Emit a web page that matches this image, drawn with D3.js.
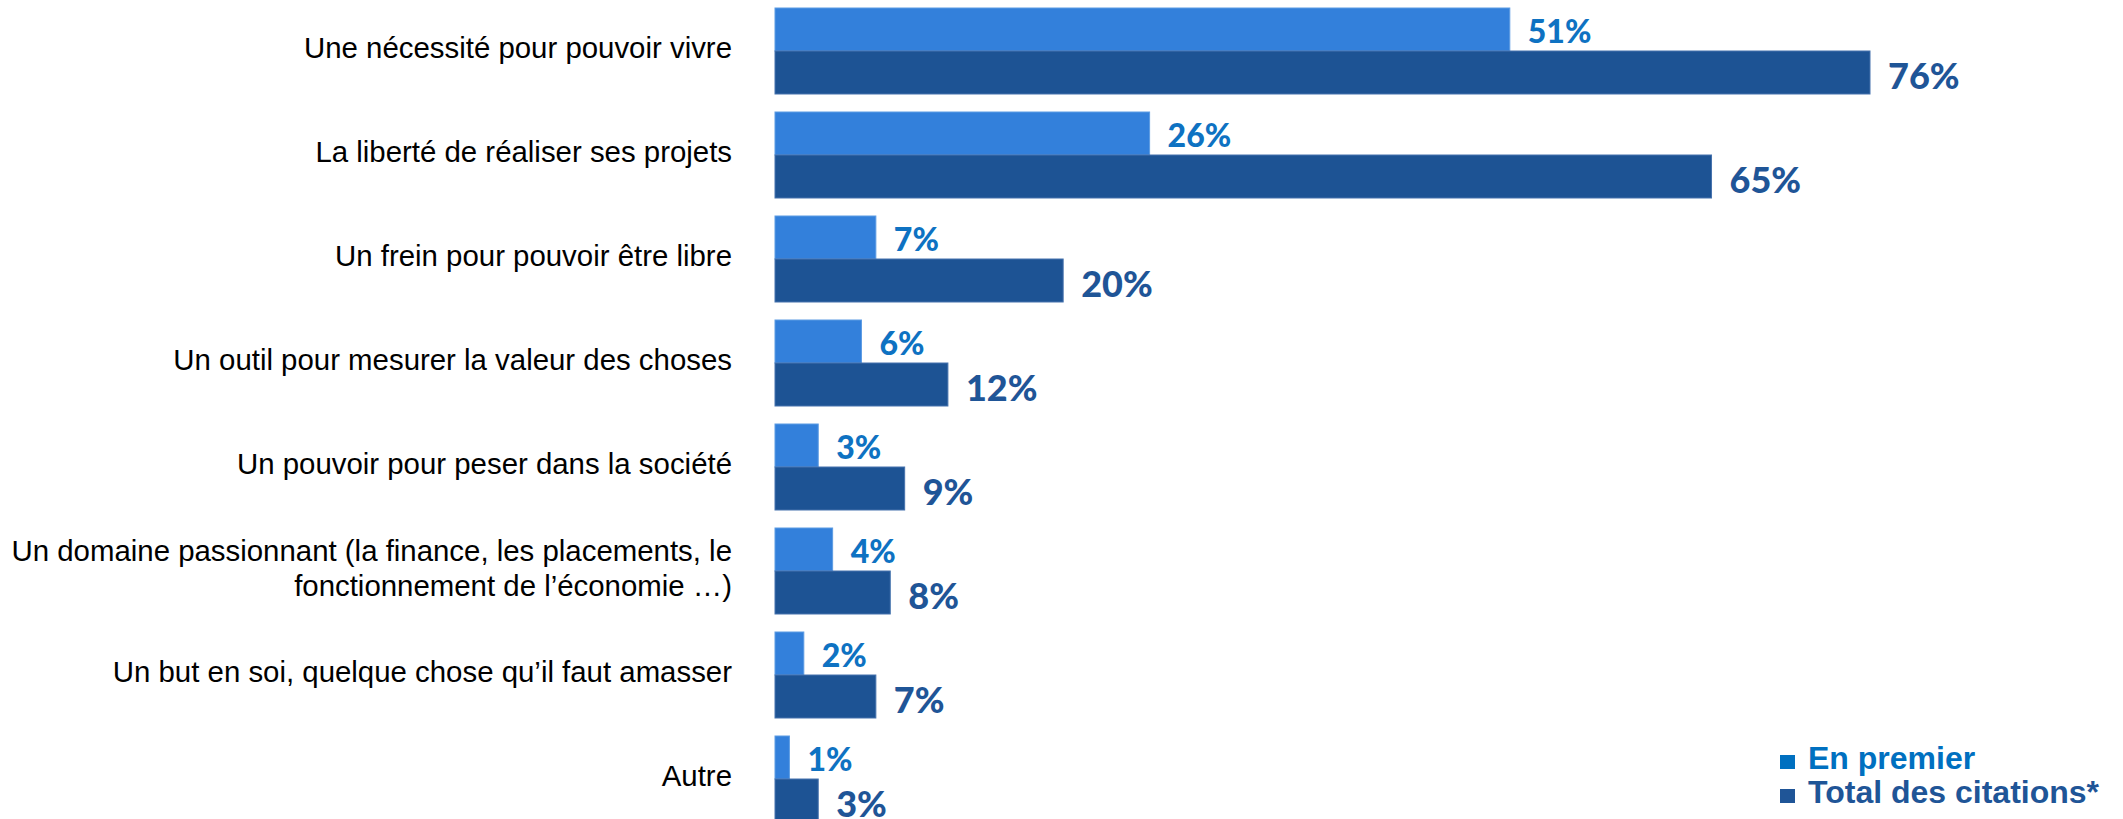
<!DOCTYPE html>
<html>
<head>
<meta charset="utf-8">
<script src="https://cdn.jsdelivr.net/npm/d3@7/dist/d3.min.js"></script>
<style>
  html, body { margin: 0; padding: 0; background: #ffffff; }
  svg { display: block; }
</style>
</head>
<body>
<svg id="chart" width="2123" height="819"></svg>
<script>
// ---- DATA ----
const categories = [
  "Une nécessité pour pouvoir vivre",
  "La liberté de réaliser ses projets",
  "Un frein pour pouvoir être libre",
  "Un outil pour mesurer la valeur des choses",
  "Un pouvoir pour peser dans la société",
  "Un domaine passionnant (la finance, les placements, le|fonctionnement de l’économie …)",
  "Un but en soi, quelque chose qu’il faut amasser",
  "Autre"
];
const enPremier = [51, 26, 7, 6, 3, 4, 2, 1];
const totalCitations = [76, 65, 20, 12, 9, 8, 7, 3];
const seriesNames = ["En premier", "Total des citations*"];

// ---- STYLE ----
const barFill = ["#3380DB", "#1D5394"];
const barStroke = ["#5C9BE3", "#4673AD"];
const labelColor = ["#0E72C2", "#1F5597"];
const legendColor = ["#0070C0", "#1F5597"];

const svg = d3.select("#chart");

const x = d3.scaleLinear().domain([0, 76]).range([775, 1870]);
const y = d3.scaleBand().domain(d3.range(categories.length))
  .range([8, 822]).paddingInner(18 / 104).paddingOuter(0);
const ySub = d3.scaleBand().domain([0, 1]).range([0, y.bandwidth()]).padding(0);

const rows = categories.map((c, i) => ({ cat: c, i, vals: [enPremier[i], totalCitations[i]] }));

const g = svg.selectAll("g.row").data(rows).join("g")
  .attr("class", "row")
  .attr("transform", d => `translate(0,${y(d.i)})`);

// bars
g.selectAll("rect.bar").data(d => d.vals.map((v, s) => ({ v, s }))).join("rect")
  .attr("class", "bar")
  .attr("x", x(0))
  .attr("y", d => ySub(d.s))
  .attr("width", d => x(d.v) - x(0))
  .attr("height", ySub.bandwidth())
  .attr("fill", d => barFill[d.s])
  .attr("stroke", d => barStroke[d.s])
  .attr("stroke-width", 1);

// value labels
g.selectAll("text.val").data(d => d.vals.map((v, s) => ({ v, s }))).join("text")
  .attr("class", "val")
  .attr("x", d => x(d.v) + 18)
  .attr("y", d => ySub(d.s) + ySub.bandwidth() / 2 + (d.s === 0 ? 1 : 2))
  .attr("dominant-baseline", "central")
  .attr("font-family", "Lato, 'Open Sans', sans-serif")
  .attr("font-weight", 900)
  .attr("font-size", d => d.s === 0 ? 32 : 36)
  .attr("fill", d => labelColor[d.s])
  .text(d => d.v + "%");

// category labels
g.each(function(d) {
  const lines = d.cat.split("|");
  const center = y.bandwidth() / 2;
  const t = d3.select(this).append("text")
    .attr("text-anchor", "end")
    .attr("font-family", "'Liberation Sans', Arial, sans-serif")
    .attr("font-size", 29.4)
    .attr("fill", "#000000");
  const lh = 35;
  lines.forEach((ln, k) => {
    t.append("tspan")
      .attr("x", 732)
      .attr("y", center + 7 + (k - (lines.length - 1) / 2) * lh)
      .text(ln);
  });
});

// legend
const legend = svg.append("g").attr("class", "legend");
const leg = legend.selectAll("g").data(seriesNames).join("g")
  .attr("transform", (d, i) => `translate(1780,${769 + i * 34})`);
leg.append("rect")
  .attr("x", 0).attr("y", -14).attr("width", 15).attr("height", 14)
  .attr("fill", (d, i) => legendColor[i]);
leg.append("text")
  .attr("x", 28).attr("y", 0)
  .attr("font-family", "'Liberation Sans', Arial, sans-serif")
  .attr("font-weight", "bold")
  .attr("font-size", 32)
  .attr("fill", (d, i) => legendColor[i])
  .text(d => d);
</script>
</body>
</html>
